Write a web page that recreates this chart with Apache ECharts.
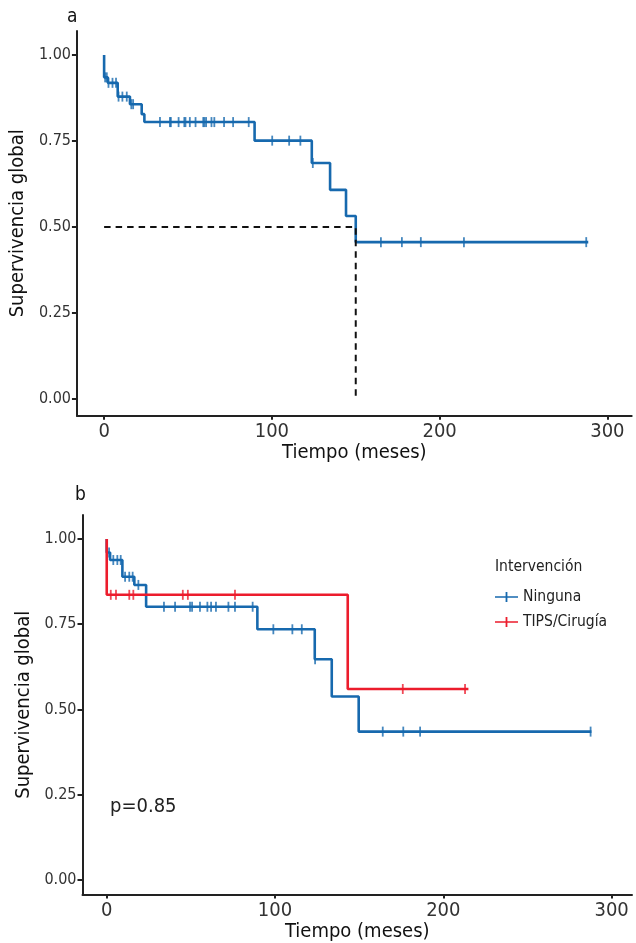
<!DOCTYPE html>
<html>
<head>
<meta charset="utf-8">
<script src="https://cdn.jsdelivr.net/npm/echarts@6/dist/echarts.min.js"></script>
<style>
  html, body { margin: 0; padding: 0; background: #fff; }
  #chart-container { width: 636px; height: 943px; }
</style>
</head>
<body>
<div id="chart-container"></div>
<script>
// panel a: supervivencia global
const topTimes = [0, 0, 2.2, 8.1, 15.4, 22.4, 24, 89.7, 123.8, 134.7, 144.2, 150];
const topSurv = [1, 0.935, 0.919, 0.879, 0.857, 0.828, 0.805, 0.751, 0.686, 0.608, 0.532, 0.456];
const topEnd = 288.6;
const topCensor = [0.6, 1.6, 2.6, 5, 7.1, 8.6, 10.9, 13.5, 16.2, 17.3, 33.3, 39.2, 39.8, 44.4, 47.8, 48.5,
    51.1, 54.5, 59.1, 59.8, 60.8, 64, 65.7, 71.5, 76.9, 86.2, 100.2, 110.3, 117, 124.4, 165, 177.5,
    188.8, 214.5, 287.4];
const medianTime = 150;
const medianSurv = 0.5;

// panel b: por intervencion
const groups = ['Ninguna', 'TIPS/Cirugía'];
const ningTimes = [0, 0, 2, 9.3, 16.4, 23.4, 89.5, 123.6, 133.7, 149.7];
const ningSurv = [1, 0.96, 0.938, 0.889, 0.865, 0.801, 0.735, 0.647, 0.538, 0.435];
const ningEnd = 288;
const ningCensor = [1.4, 3.9, 6.3, 8.3, 10.9, 13.4, 15.4, 18.8, 34, 40.6, 49.5, 50.7, 55.4, 59.8, 62,
    64.9, 72.3, 76.2, 86.7, 99, 110.3, 115.9, 123.8, 164, 176.2, 186.2, 287.5];
const tipsTimes = [0, 0, 143.2];
const tipsSurv = [1, 0.836, 0.56];
const tipsEnd = 214.9;
const tipsCensor = [2.4, 5.5, 13.4, 15.8, 45.2, 48.2, 76.2, 175.9, 212.9];
const pValue = 'p=0.85';

const xTicks = [0, 100, 200, 300];
const yTicks = [0, 0.25, 0.5, 0.75, 1];

const BLUE = '#1769AE';
const RED = '#EC1C2C';
const FONT = 'DejaVu Sans Condensed';
// cruz de la leyenda: linea horizontal con marca de censura
const KEY_ICON = 'path://M0,4.2H23V5.8H0Z M10.6,0H12.4V10H10.6Z';

function kmPoints(times, surv, end) {
    const pts = times.map(function (t, i) { return [t, surv[i]]; });
    pts.push([end, surv[surv.length - 1]]);
    return pts;
}

function survAt(times, surv, t) {
    let s = surv[0];
    for (let i = 0; i < times.length; i++) {
        if (times[i] <= t) s = surv[i];
    }
    return s;
}

function censorPoints(times, surv, censor) {
    return censor.map(function (t) { return [t, survAt(times, surv, t)]; });
}

function xAxis(gridIndex, min, max) {
    return {
        type: 'value', gridIndex: gridIndex, min: min, max: max,
        name: 'Tiempo (meses)', nameLocation: 'middle', nameGap: 23,
        nameTextStyle: { fontFamily: FONT, fontSize: 20, color: '#111' },
        axisLine: { onZero: false, lineStyle: { color: '#222', width: 2 } },
        axisTick: { length: 4, lineStyle: { color: '#222', width: 2 }, customValues: xTicks },
        axisLabel: { margin: 6, fontFamily: FONT, fontSize: 20, color: '#333', customValues: xTicks },
        splitLine: { show: false }
    };
}

function yAxis(gridIndex, min, max, gap) {
    return {
        type: 'value', gridIndex: gridIndex, min: min, max: max,
        name: 'Supervivencia global', nameLocation: 'middle', nameGap: gap,
        nameTextStyle: { fontFamily: FONT, fontSize: 20, color: '#111' },
        axisLine: { onZero: false, lineStyle: { color: '#222', width: 2 } },
        axisTick: { length: 5, lineStyle: { color: '#222', width: 2 }, customValues: yTicks },
        axisLabel: {
            margin: 6, fontFamily: FONT, fontSize: 16, color: '#333', customValues: yTicks,
            formatter: function (v) { return v.toFixed(2); }
        },
        splitLine: { show: false }
    };
}

function kmSeries(name, idx, pts, color) {
    return {
        name: name, type: 'line', xAxisIndex: idx, yAxisIndex: idx, data: pts,
        step: 'end', showSymbol: false, symbol: 'none', animation: false, symbolKeepAspect: true,
        lineStyle: { color: color, width: 2.6 }, itemStyle: { color: color }
    };
}

function censorSeries(idx, pts, color) {
    return {
        type: 'scatter', xAxisIndex: idx, yAxisIndex: idx, data: pts,
        symbol: 'rect', symbolSize: [1.8, 10], animation: false, silent: true,
        itemStyle: { color: color }, z: 3
    };
}

const chart = echarts.init(document.getElementById('chart-container'), null, { renderer: 'canvas' });

const option = {
    backgroundColor: '#fff',
    animation: false,
    grid: [
        { left: 75, right: 4.3, top: 30.9, bottom: 527.3 },
        { left: 82.5, right: 4, top: 515, bottom: 48.5 }
    ],
    xAxis: [xAxis(0, -16.2, 314.5), xAxis(1, -14.4, 312.1)],
    yAxis: [yAxis(0, -0.0485, 1.07, 44), yAxis(1, -0.0425, 1.07, 40)],
    legend: {
        data: groups.map(function (g) {
            return { name: g, icon: KEY_ICON };
        }),
        orient: 'vertical', left: 490, top: 584, itemWidth: 23, itemHeight: 10, itemGap: 9,
        textStyle: { fontFamily: FONT, fontSize: 15.5, color: '#222' }
    },
    series: [
        kmSeries('Todos', 0, kmPoints(topTimes, topSurv, topEnd), BLUE),
        censorSeries(0, censorPoints(topTimes, topSurv, topCensor), BLUE),
        {
            type: 'line', xAxisIndex: 0, yAxisIndex: 0, symbol: 'none', animation: false, z: 4,
            data: [[0, medianSurv], [medianTime, medianSurv], [medianTime, 0]],
            lineStyle: { color: '#111', width: 2, type: [6.5, 5] }
        },
        kmSeries(groups[0], 1, kmPoints(ningTimes, ningSurv, ningEnd), BLUE),
        censorSeries(1, censorPoints(ningTimes, ningSurv, ningCensor), BLUE),
        kmSeries(groups[1], 1, kmPoints(tipsTimes, tipsSurv, tipsEnd), RED),
        censorSeries(1, censorPoints(tipsTimes, tipsSurv, tipsCensor), RED)
    ],
    graphic: [
        { type: 'text', left: 67, top: 8, style: { text: 'a', fontFamily: FONT, fontSize: 19, fill: '#111' } },
        { type: 'text', left: 75, top: 486, style: { text: 'b', fontFamily: FONT, fontSize: 19, fill: '#111' } },
        { type: 'text', left: 495, top: 559, style: { text: 'Intervención', fontFamily: FONT, fontSize: 15.5, fill: '#222' } },
        { type: 'text', left: 110, top: 797, style: { text: pValue, fontFamily: FONT, fontSize: 20, fill: '#222' } }
    ]
};

chart.setOption(option);
</script>
</body>
</html>
